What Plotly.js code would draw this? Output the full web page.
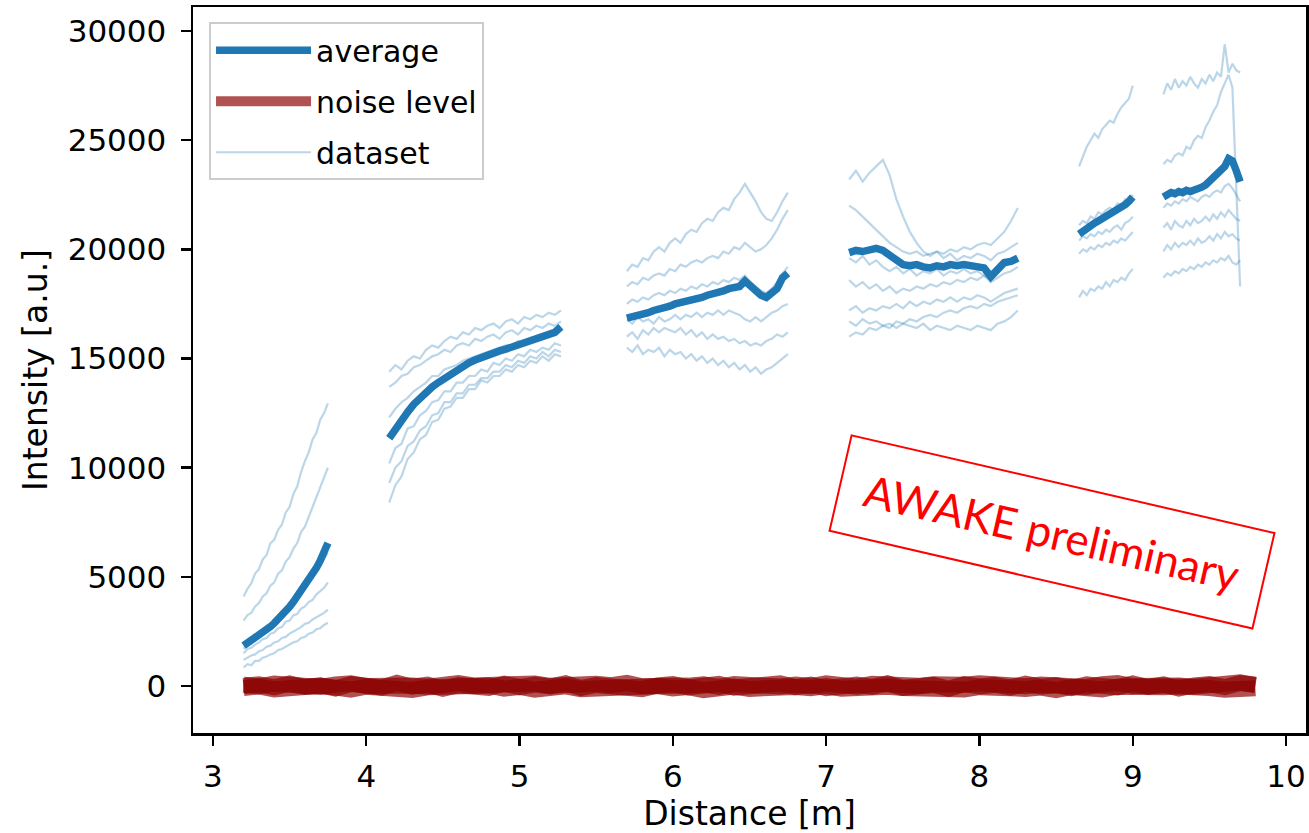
<!DOCTYPE html>
<html>
<head>
<meta charset="utf-8">
<script src="https://cdn.plot.ly/plotly-3.0.1.min.js"></script>
<style>html,body{margin:0;padding:0;background:#fff;}#chart{width:1309px;height:833px;}</style>
</head>
<body>
<div id="chart"></div>
<script>
// ---- segment 1 ----
const seg1X = [3.2,3.225,3.25,3.275,3.3,3.325,3.35,3.375,3.4,3.425,3.45,3.475,3.5,3.525,3.55,3.575,3.6,3.625,3.65,3.675,3.7,3.725,3.75];
const avg1 = [1850,1960,2080,2190,2300,2420,2560,2720,2880,3050,3230,3420,3630,3860,4100,4360,4620,4880,5140,5410,5740,6120,6550];
const set1 = [
  [4100,4450,4700,5150,5350,5800,6000,6550,6700,7150,7400,7950,8200,8800,9150,9800,10300,10700,11300,11600,12200,12500,12950],
  [3000,3250,3350,3650,3800,4100,4250,4600,4750,5150,5300,5700,5900,6300,6550,7050,7300,7800,8200,8650,9100,9500,10000],
  [1700,1950,1950,2250,2300,2500,2600,2850,2950,3200,3300,3550,3650,3950,4050,4400,4550,4850,5000,5350,5500,5850,6100],
  [1500,1700,1750,1900,2000,2150,2200,2400,2450,2650,2700,2950,3000,3250,3300,3550,3650,3850,3950,4200,4350,4500,4750],
  [1200,1300,1400,1450,1600,1650,1800,1850,2000,2050,2200,2250,2400,2500,2600,2700,2850,2900,3050,3150,3250,3350,3500],
  [850,1000,950,1150,1150,1300,1350,1450,1500,1650,1700,1800,1900,2000,2050,2200,2250,2400,2450,2600,2650,2800,2900]
];
// ---- segment 2 ----
const seg2X = [4.15,4.19,4.23,4.27,4.31,4.35,4.39,4.43,4.47,4.51,4.55,4.59,4.63,4.67,4.71,4.75,4.79,4.83,4.87,4.91,4.95,4.99,5.03,5.07,5.11,5.15,5.19,5.23,5.27];
const avg2 = [11350,11800,12200,12550,12900,13200,13450,13700,13900,14100,14300,14480,14650,14800,14930,15050,15150,15250,15350,15430,15520,15600,15680,15760,15850,15950,16050,16200,16450];
const set2 = [
  [14400,14700,14500,14900,15100,15000,15400,15600,15500,15800,16000,15900,16200,16100,16400,16300,16500,16600,16400,16700,16800,16600,16900,16800,17000,16900,17100,17000,17200],
  [13700,13900,14200,14300,14600,14700,14900,15100,15200,15400,15300,15600,15700,15600,15900,15800,16000,16100,15900,16200,16300,16100,16400,16300,16500,16400,16600,16500,16700],
  [12300,12700,13000,13200,13500,13700,13900,14200,14200,14500,14600,14700,14900,15000,15100,15200,15300,15400,15500,15600,15600,15800,15700,15900,16000,15900,16100,16200,16300],
  [10200,10900,11100,11800,11900,12400,12600,13000,13100,13500,13500,13900,13900,14200,14200,14500,14400,14800,14700,15000,14900,15200,15100,15400,15300,15500,15400,15700,15600],
  [9300,10000,10300,11000,11200,11700,11900,12400,12500,13000,13000,13400,13400,13800,13800,14100,14100,14400,14400,14700,14600,14900,14800,15100,15000,15300,15100,15400,15300],
  [8400,9200,9600,10400,10700,11300,11500,12100,12200,12700,12800,13200,13200,13600,13600,14000,13900,14200,14200,14500,14400,14700,14600,14900,14800,15100,14900,15200,15100]
];
// ---- segment 3 ----
const seg3X = [5.7,5.735,5.77,5.805,5.84,5.875,5.91,5.945,5.98,6.015,6.05,6.085,6.12,6.155,6.19,6.225,6.26,6.295,6.33,6.365,6.4,6.435,6.47,6.505,6.54,6.575,6.61,6.645,6.68,6.715,6.75];
const avg3 = [16850,16900,16950,17000,17100,17200,17250,17350,17400,17500,17550,17650,17700,17750,17800,17900,17950,18050,18100,18200,18250,18300,18550,18300,18150,17900,17800,17950,18200,18700,18900];
const set3 = [
  [19000,19300,19200,19600,19500,19900,20100,19900,20300,20500,20300,20700,20900,20800,21200,21400,21300,21700,21900,21800,22300,22600,23000,22600,22200,21700,21400,21300,21700,22200,22600],
  [18300,18500,18400,18700,18600,18800,18900,18800,19100,19000,19300,19200,19400,19500,19400,19600,19700,19600,19900,19800,20100,20000,20300,20100,19900,20000,20200,20500,20900,21400,21800],
  [17500,17700,17600,17800,17700,17900,18000,17900,18100,18000,18200,18100,18300,18200,18400,18300,18500,18400,18600,18500,18700,18600,18800,18500,18300,18100,18000,18200,18500,18900,19200],
  [16800,16600,16900,16700,16800,16600,16900,16700,16800,17000,16800,17000,16900,17100,16900,17100,17000,17200,17000,17200,17100,17000,16800,16700,16900,16700,16900,17100,17200,17400,17500],
  [16000,16200,15900,16300,16100,16400,16200,16400,16300,16200,16400,16100,16300,16000,16200,15900,16100,15900,16000,15800,15900,15700,15800,15600,15700,15600,15800,15900,16100,16000,16200],
  [15500,15300,15600,15200,15400,15300,15500,15100,15400,15200,15300,15000,15200,14900,15100,14800,15000,14700,14900,14600,14800,14500,14700,14400,14600,14300,14500,14600,14800,15000,15200]
];
// ---- segment 4 ----
const seg4X = [7.15,7.194,7.238,7.282,7.326,7.37,7.414,7.458,7.502,7.546,7.59,7.634,7.678,7.722,7.766,7.81,7.854,7.898,7.942,7.986,8.03,8.074,8.118,8.162,8.206,8.25];
const avg4 = [19850,19950,19900,20000,20050,19950,19700,19450,19300,19250,19300,19200,19150,19250,19200,19300,19250,19300,19250,19200,19150,18750,19100,19400,19450,19600];
const set4 = [
  [23200,23600,23100,23500,23800,24100,23400,22300,21500,20800,20300,19900,19700,19900,19600,19800,19500,19700,19600,19800,19700,19500,19800,19900,20100,20300],
  [22000,21800,21500,21200,20900,20600,20300,20100,19900,19800,19900,19700,19800,19900,19800,20000,19900,20100,20000,20200,20300,20200,20500,20800,21300,21900],
  [19600,19400,19700,19300,19500,19200,19000,19200,18900,19100,18800,19000,18900,19100,18800,19000,18900,19100,18900,19000,18800,18600,18900,19200,19400,19500],
  [18600,18300,18500,18200,18400,18100,18300,18000,18200,18100,18300,18200,18400,18300,18500,18400,18600,18500,18700,18600,18800,18500,18700,18900,19000,19200],
  [17200,17400,17100,17300,17200,17400,17300,17500,17300,17600,17400,17600,17500,17700,17600,17800,17600,17800,17700,17900,17800,17600,17800,18000,18100,18200],
  [16000,16200,16100,16400,16300,16500,16400,16700,16600,16800,16700,16900,17000,16900,17100,17200,17100,17300,17400,17300,17500,17400,17600,17700,17800,17900],
  [16700,16500,16800,16600,16700,16500,16600,16400,16600,16500,16400,16600,16300,16500,16400,16300,16500,16400,16300,16500,16400,16300,16600,16700,16900,17200]
];
// ---- segment 5 ----
const seg5X = [8.65,8.675,8.7,8.725,8.75,8.775,8.8,8.825,8.85,8.875,8.9,8.925,8.95,8.975,9.0];
const avg5 = [20700,20850,20950,21050,21200,21300,21400,21550,21650,21750,21850,21950,22050,22200,22400];
const set5 = [
  [23800,24300,24700,25000,25300,25100,25500,25700,25900,25800,26200,26500,26700,26900,27500],
  [21100,21300,21200,21500,21400,21700,21600,21800,21900,21800,22100,22000,22300,22200,22500],
  [20400,20600,20500,20700,20600,20800,20700,20900,20800,21000,21100,20900,21200,21300,21500],
  [19800,20000,19900,20100,20000,20200,20100,20300,20200,20400,20300,20500,20400,20600,20800],
  [17800,18100,17900,18200,18100,18300,18200,18500,18300,18600,18500,18700,18600,18900,19100]
];
// ---- segment 6 ----
const seg6X = [9.2,9.225,9.25,9.275,9.3,9.325,9.35,9.375,9.4,9.425,9.45,9.475,9.5,9.525,9.55,9.575,9.6,9.625,9.65,9.675,9.7];
const avg6 = [22400,22500,22600,22550,22650,22600,22700,22650,22700,22750,22850,22950,23100,23250,23400,23550,23800,24150,24050,23600,23100];
const set6 = [
  [27100,27600,27300,27800,27400,27700,27500,27900,27600,27400,27800,27600,28000,27700,28100,27900,29400,28100,28500,28200,28100],
  [23900,24100,24000,24300,24400,24300,24700,24600,25000,25200,25100,25600,25900,26300,26600,27200,27600,28000,27400,23000,18300],
  [21900,22100,22000,22200,22100,22300,22200,22400,22300,22200,22400,22500,22400,22600,22700,22600,22900,23000,22800,22500,22200],
  [21000,21200,20900,21300,21100,21000,21300,21100,21400,21200,21300,21500,21300,21600,21400,21700,21500,21800,21600,21400,21300],
  [19900,20200,20000,20300,20100,20300,20200,20400,20200,20500,20300,20400,20600,20400,20700,20500,20800,20600,20700,20500,20400],
  [18700,18900,18800,19000,18900,19100,19000,19200,19100,19300,19200,19400,19300,19500,19400,19600,19500,19700,19400,19300,19500]
];
// ---- noise level ----
const noiseX = [3.2,3.3,3.4,3.5,3.6,3.7,3.8,3.9,4.0,4.1,4.2,4.3,4.4,4.5,4.6,4.7,4.8,4.9,5.0,5.1,5.2,5.3,5.4,5.5,5.6,5.7,5.8,5.9,6.0,6.1,6.2,6.3,6.4,6.5,6.6,6.7,6.8,6.9,7.0,7.1,7.2,7.3,7.4,7.5,7.6,7.7,7.8,7.9,8.0,8.1,8.2,8.3,8.4,8.5,8.6,8.7,8.8,8.9,9.0,9.1,9.2,9.3,9.4,9.5,9.6,9.7,9.8];
const noiseA = [0,80,-60,120,-40,30,-110,90,20,-70,150,-30,60,-120,40,10,-80,110,-50,70,-20,130,-90,50,-10,80,-140,30,90,-60,20,100,-70,40,-30,120,-50,60,-100,10,70,-40,130,-80,30,50,-120,90,-20,60,-70,110,-30,40,-90,80,10,-60,120,-40,70,-110,30,90,-50,140,60];
const noiseB = [-90,-20,-150,-40,-110,10,-70,-160,-30,-100,-50,-180,-60,-10,-130,-80,20,-120,-40,-170,-70,-10,-140,-90,-30,-160,-60,0,-110,-50,-190,-80,-20,-130,-70,-150,-40,-100,0,-120,-60,-170,-30,-90,-140,-20,-80,-160,-50,-110,-10,-130,-70,-190,-40,-100,-150,-30,-80,-120,-60,-20,-140,-90,-170,-50,-100];
const noiseC = [60,-10,110,20,90,-40,70,130,0,50,100,20,-30,80,140,30,90,-20,60,120,10,70,-50,100,40,150,-10,60,110,20,80,-40,90,30,130,-20,70,0,120,50,-30,100,40,160,10,80,-20,60,130,30,90,-10,70,20,110,-40,80,140,0,60,100,30,-30,90,50,170,40];

const labels = {avg: 'average', noise: 'noise level', data: 'dataset'};

const BLUE = '#1f77b4';
const SETCOL = 'rgba(31,119,180,0.3)';
const NOISECOL = 'rgba(139,0,0,0.68)';

const traces = [];
// noise band
[noiseA, noiseB, noiseC].forEach((ys, i) => {
  traces.push({x: noiseX, y: ys, type: 'scatter', mode: 'lines',
    line: {color: NOISECOL, width: 16}, name: labels.noise,
    legendgroup: 'noise', showlegend: i === 0, legendrank: 2, hoverinfo: 'skip'});
});
// datasets
const segX = [seg1X, seg2X, seg3X, seg4X, seg5X, seg6X];
const segSets = [set1, set2, set3, set4, set5, set6];
let first = true;
segSets.forEach((sets, si) => {
  sets.forEach(ys => {
    traces.push({x: segX[si], y: ys, type: 'scatter', mode: 'lines',
      line: {color: SETCOL, width: 2.2}, name: labels.data,
      legendgroup: 'data', showlegend: first, legendrank: 3});
    first = false;
  });
});
// averages
const segAvg = [avg1, avg2, avg3, avg4, avg5, avg6];
segAvg.forEach((ys, si) => {
  traces.push({x: segX[si], y: ys, type: 'scatter', mode: 'lines',
    line: {color: BLUE, width: 7.5}, name: labels.avg,
    legendgroup: 'avg', showlegend: si === 0, legendrank: 1});
});

const axisCommon = {
  showline: true, mirror: true, linecolor: '#000', linewidth: 2.5,
  ticks: 'outside', ticklen: 10, tickwidth: 2.5, tickcolor: '#000',
  showgrid: false, zeroline: false,
  tickfont: {family: 'DejaVu Sans', size: 31, color: '#000'}
};

const layout = {
  width: 1309, height: 833,
  margin: {l: 193, r: 3, t: 7, b: 100},
  paper_bgcolor: '#fff', plot_bgcolor: '#fff',
  xaxis: Object.assign({}, axisCommon, {
    range: [2.87, 10.13], tickvals: [3,4,5,6,7,8,9,10],
    ticklabelstandoff: 4,
    title: {text: 'Distance [m]', font: {family: 'DejaVu Sans', size: 33, color: '#000'}, standoff: 12}
  }),
  yaxis: Object.assign({}, axisCommon, {
    range: [-2150, 31100], tickvals: [0,5000,10000,15000,20000,25000,30000],
    tickformat: 'd',
    ticklabelstandoff: 8,
    title: {text: 'Intensity [a.u.]', font: {family: 'DejaVu Sans', size: 33, color: '#000'}, standoff: 10}
  }),
  showlegend: true,
  legend: {
    x: 0.0144, y: 0.979, xanchor: 'left', yanchor: 'top',
    bgcolor: '#fff', bordercolor: '#cccccc', borderwidth: 2,
    font: {family: 'DejaVu Sans', size: 30, color: '#000'},
    traceorder: 'grouped', tracegroupgap: 9, itemwidth: 95
  },
  annotations: [{
    x: 8.475, y: 7055, xref: 'x', yref: 'y', showarrow: false,
    text: 'AWAKE preliminary', textangle: 13,
    font: {family: 'Lato', size: 44, color: '#ff0000'},
    bordercolor: '#ff0000', borderwidth: 2, borderpad: 10,
    width: 412, height: 76, bgcolor: 'rgba(255,255,255,0)'
  }]
};

Plotly.newPlot('chart', traces, layout, {displayModeBar: false, staticPlot: true});
</script>
</body>
</html>
